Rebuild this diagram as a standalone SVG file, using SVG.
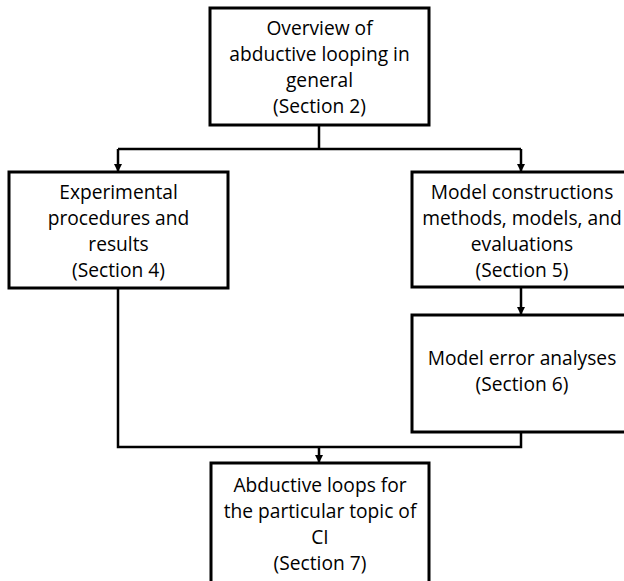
<svg xmlns="http://www.w3.org/2000/svg" width="624" height="581" viewBox="0 0 624 581">
<style>
.box{fill:#fff;stroke:#000;stroke-width:3}
.t{font-family:"Open Sans","Liberation Sans",sans-serif;font-size:19.2px;fill:#000;text-anchor:middle}
.c{fill:none;stroke:#000;stroke-width:2.5}
</style>
<defs>
<marker id="ah" markerWidth="8" markerHeight="8" refX="8" refY="4" orient="auto" markerUnits="userSpaceOnUse">
<path d="M0,0 L8,4 L0,8 Z" fill="#000"/>
</marker>
</defs>
<rect width="624" height="581" fill="#fff"/>
<g id="connectors">
<path class="c" d="M319,125 V149"/>
<path class="c" d="M118,149 H521"/>
<path class="c" d="M118,149 V172" marker-end="url(#ah)"/>
<path class="c" d="M521,149 V172" marker-end="url(#ah)"/>
<path class="c" d="M521,287 V315" marker-end="url(#ah)"/>
<path class="c" d="M118,288 V447 H521 V432"/>
<path class="c" d="M319,447 V463" marker-end="url(#ah)"/>
</g>
<g id="n2">
<rect class="box" x="210" y="8" width="219" height="117"/>
<text class="t" x="319.5" y="35">Overview of</text>
<text class="t" x="319.5" y="61">abductive looping in</text>
<text class="t" x="319.5" y="87">general</text>
<text class="t" x="319.5" y="113">(Section 2)</text>
</g>
<g id="n4">
<rect class="box" x="9" y="172" width="219" height="116"/>
<text class="t" x="118.5" y="199">Experimental</text>
<text class="t" x="118.5" y="225">procedures and</text>
<text class="t" x="118.5" y="251">results</text>
<text class="t" x="118.5" y="277">(Section 4)</text>
</g>
<g id="n5">
<rect class="box" x="412" y="172" width="220" height="115"/>
<text class="t" x="522" y="199">Model constructions</text>
<text class="t" x="522" y="225">methods, models, and</text>
<text class="t" x="522" y="251">evaluations</text>
<text class="t" x="522" y="277">(Section 5)</text>
</g>
<g id="n6">
<rect class="box" x="412" y="315" width="220" height="117"/>
<text class="t" x="522" y="365">Model error analyses</text>
<text class="t" x="522" y="391">(Section 6)</text>
</g>
<g id="n7">
<rect class="box" x="211" y="463" width="218" height="125"/>
<text class="t" x="320" y="492">Abductive loops for</text>
<text class="t" x="320" y="518">the particular topic of</text>
<text class="t" x="320" y="544">CI</text>
<text class="t" x="320" y="570">(Section 7)</text>
</g>
</svg>
